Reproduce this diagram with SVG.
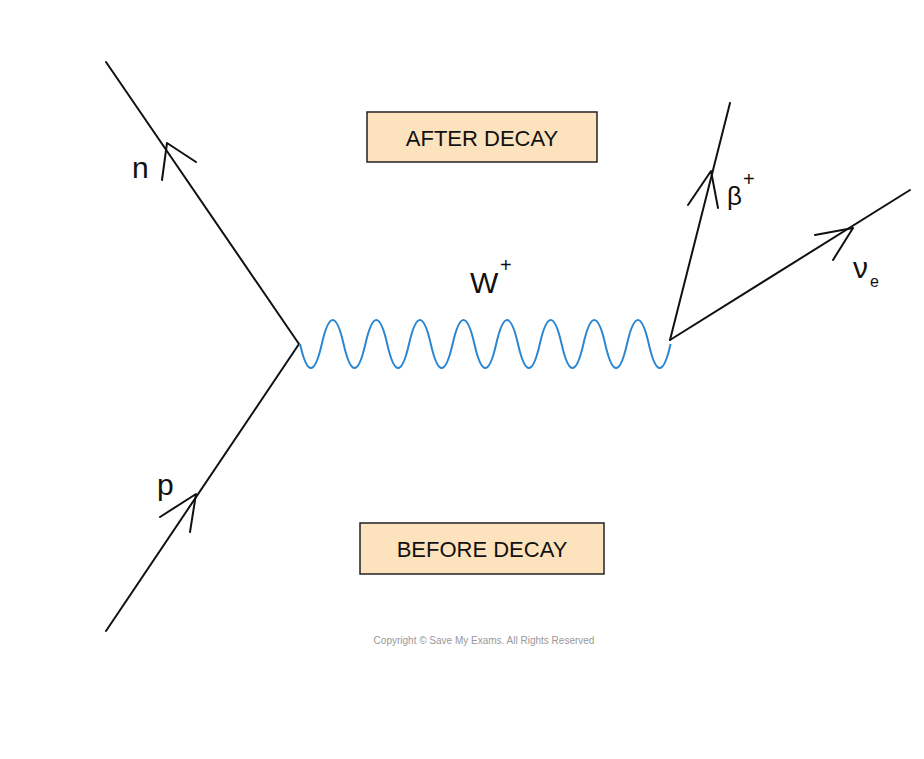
<svg xmlns="http://www.w3.org/2000/svg" width="924" height="759" viewBox="0 0 924 759">
<style>
.l{stroke:#111;stroke-width:2;fill:none;stroke-linecap:round;stroke-linejoin:round}
.box{fill:#fde3bd;stroke:#222;stroke-width:1.5}
.t{font-family:"Liberation Sans",Arial,sans-serif;fill:#111}
</style>
<rect width="924" height="759" fill="#fff"/>
<g id="connectors">
<path class="l" d="M106,62 L299,344 L106,631"/>
<path class="l" d="M162,180 L167,143 L196,162"/>
<path class="l" d="M160,517 L196,494 L190,532"/>
<path class="l" d="M670,340 L730,103"/>
<path class="l" d="M688,205 L711,171 L718,208"/>
<path class="l" d="M670,340 L910,190"/>
<path class="l" d="M815,235 L853,228 L833,260"/>
<path d="M300,344 q10.9,48 21.8,0 t21.8,0 t21.8,0 t21.8,0 t21.8,0 t21.8,0 t21.8,0 t21.8,0 t21.8,0 t21.8,0 t21.8,0 t21.8,0 t21.8,0 t21.8,0 t21.8,0 t21.8,0 t21.8,0" fill="none" stroke="#2a86d0" stroke-width="2"/>
</g>
<g id="after"><rect class="box" x="367" y="112" width="230" height="50"/><text class="t" x="482" y="146" font-size="22" text-anchor="middle">AFTER  DECAY</text></g>
<g id="before"><rect class="box" x="360" y="523" width="244" height="51"/><text class="t" x="482" y="557" font-size="22" text-anchor="middle">BEFORE  DECAY</text></g>
<g id="labels">
<text class="t" x="132" y="178" font-size="30">n</text>
<text class="t" x="157" y="495" font-size="30">p</text>
<text class="t" x="470" y="293" font-size="30">W</text><text class="t" x="500" y="272" font-size="20">+</text>
<text class="t" x="727" y="205" font-size="26">β</text><text class="t" x="743" y="186" font-size="20">+</text>
<text class="t" x="853" y="278" font-size="30">ν</text><text class="t" x="870" y="287" font-size="16">e</text>
<text class="t" x="484" y="644" font-size="10" text-anchor="middle" style="fill:#999">Copyright © Save My Exams. All Rights Reserved</text>
</g>
</svg>
